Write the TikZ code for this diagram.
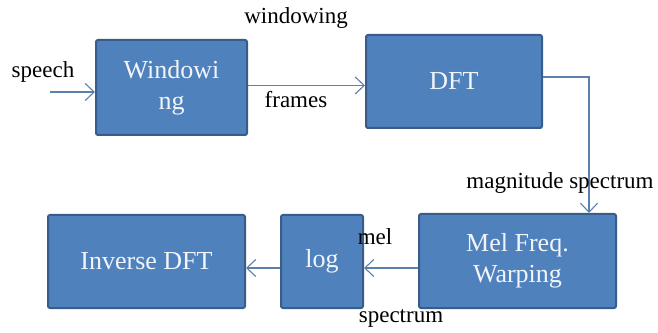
\documentclass[tikz,border=0pt]{standalone}
\usepackage{fontspec}
\setmainfont{Liberation Serif}
\usetikzlibrary{arrows.meta}
\definecolor{boxfill}{HTML}{4F81BD}
\definecolor{boxline}{HTML}{385D8A}
\definecolor{wire}{HTML}{5B7FAF}
\tikzset{
  block/.style={draw=boxline,fill=boxfill,line width=2pt,rounded corners=2pt,
    text=white!92!boxfill,font=\fontsize{26}{31}\selectfont,align=center},
  lbl/.style={font=\fontsize{23}{27}\selectfont},
  wire/.style={draw=wire,line width=1.4pt,-{Straight Barb[length=9pt,width=17pt,line width=1.1pt]}}
}
\begin{document}
\begin{tikzpicture}[x=1pt,y=1pt] % one unit is one point

  \useasboundingbox (0,0) rectangle (658,332);

  \node[block,minimum width=151pt,minimum height=95pt](win) at (171.5,244.5) {Windowi\\ng};
  \node[block,minimum width=176pt,minimum height=93pt](dft) at (454,250.5) {DFT};
  \node[block,minimum width=197pt,minimum height=94pt](mel) at (517.5,71) {Mel Freq.\\Warping};
  \node[block,minimum width=82pt,minimum height=93pt](log) at (322,70.5) {log};
  \node[block,minimum width=197pt,minimum height=93pt](idft) at (146.5,70.5) {Inverse DFT};

  \coordinate (speech) at (50,240);

  \draw[wire] (speech) -- (speech -| win.west);
  \draw[wire] ([yshift=2pt]win.east) -- ([yshift=2pt]win.east -| dft.west);
  \draw[wire] ([yshift=4.5pt]dft.east) -| ([xshift=71.5pt]mel.north);
  \draw[wire] ([yshift=-7pt]mel.west) -- ([yshift=-7pt]mel.west -| log.east);
  \draw[wire] ([yshift=-6.5pt]log.west) -- ([yshift=-6.5pt]log.west -| idft.east);

  \node[lbl] at (43,260) {speech};
  \node[lbl] at (296,314) {windowing};
  \node[lbl] at (296,232) {frames};
  \node[lbl] at (560,149) {magnitude spectrum};
  \node[lbl] at (375,95) {mel};
  \node[lbl] at (401,14) {spectrum};

\end{tikzpicture}
\end{document}
